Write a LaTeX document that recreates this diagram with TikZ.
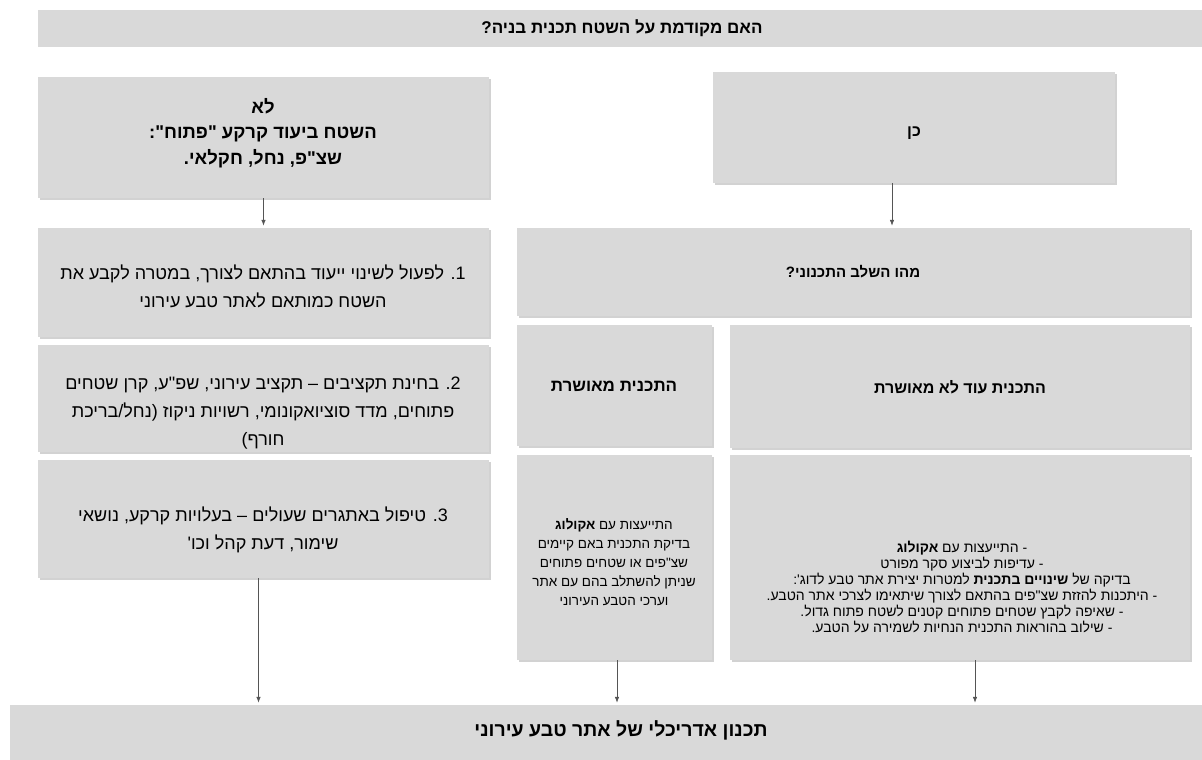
\documentclass[tikz,border=0pt]{standalone}
\usepackage{fontspec}
\newfontfamily\heb[Script=Hebrew]{Liberation Sans}
\TeXXeTstate=1
\usetikzlibrary{shadows,arrows.meta}
\newcommand{\rtl}[1]{\beginR#1\endR}
\definecolor{boxgray}{HTML}{D9D9D9}
\definecolor{arrgray}{HTML}{555555}
\begin{document}
\begin{tikzpicture}[x=1pt,y=-1pt,
  box/.style={fill=boxgray, draw=none, inner sep=0pt,
    drop shadow={shadow xshift=2pt, shadow yshift=-2pt, fill=black!35}},
  flat/.style={fill=boxgray, draw=none, inner sep=0pt},
  txt/.style={align=center, inner sep=0pt, text=black},
  bigt/.style={txt, font=\heb\fontsize{18}{28}\selectfont},
  headt/.style={txt, font=\heb\bfseries\fontsize{16}{25}\selectfont},
  smallt/.style={txt, font=\heb\fontsize{13.5}{19}\selectfont},
  tinyt/.style={txt, font=\heb\fontsize{14}{16}\selectfont},
  arr/.style={draw=arrgray, line width=0.7pt, -{Latex[length=6pt,width=4.5pt]}, shorten >=2pt}]
\useasboundingbox (0,0) rectangle (1202,760);
\fill[white] (0,0) rectangle (1202,760);

% boxes
\node[flat, minimum width=1164pt, minimum height=37pt] (top) at (620,28.5) {};
\node[box, minimum width=451pt, minimum height=121pt] (la) at (263.5,137.5) {};
\node[box, minimum width=402pt, minimum height=111pt] (ken) at (914,127.5) {};
\node[box, minimum width=451pt, minimum height=109pt] (b1) at (263.5,282.5) {};
\node[box, minimum width=451pt, minimum height=107pt] (b2) at (263.5,398.5) {};
\node[box, minimum width=451pt, minimum height=118pt] (b3) at (263.5,519) {};
\node[box, minimum width=673pt, minimum height=88pt] (stage) at (853.5,272) {};
\node[box, minimum width=195pt, minimum height=121pt] (appr) at (614.5,385.5) {};
\node[box, minimum width=460pt, minimum height=123pt] (notappr) at (960,386.5) {};
\node[box, minimum width=195pt, minimum height=205pt] (mb) at (614.5,557.5) {};
\node[box, minimum width=460pt, minimum height=205pt] (rb) at (960,557.5) {};
\node[flat, minimum width=1192pt, minimum height=55pt] (bottom) at (606,732.5) {};

% texts
\node[headt, font=\heb\bfseries\fontsize{17}{20}\selectfont] (topt) at (622,28) {\rtl{האם מקודמת על השטח תכנית בניה?}};
\node[headt, font=\heb\bfseries\fontsize{18.5}{25.5}\selectfont] (lat) at (263,133) {\rtl{לא}\\\rtl{השטח ביעוד קרקע "פתוח":}\\\rtl{שצ"פ, נחל, חקלאי.}};
\node[headt] (kent) at (914,133) {\rtl{כן}};
\node[bigt] (b1t) at (263,286) {\rtl{1\kern0pt. לפעול לשינוי ייעוד בהתאם לצורך, במטרה לקבע את}\\\rtl{השטח כמותאם לאתר טבע עירוני}};
\node[bigt] (b2t) at (263,413) {\rtl{2\kern0pt. בחינת תקציבים – תקציב עירוני, שפ"ע, קרן שטחים}\\\rtl{פתוחים, מדד סוציואקונומי, רשויות ניקוז (נחל/בריכת}\\\rtl{חורף)}};
\node[bigt] (b3t) at (263,530) {\rtl{3\kern0pt. טיפול באתגרים שעולים – בעלויות קרקע, נושאי}\\\rtl{שימור, דעת קהל וכו'}};
\node[headt, font=\heb\bfseries\fontsize{15}{20}\selectfont] (staget) at (853,272) {\rtl{מהו השלב התכנוני?}};
\node[headt, font=\heb\bfseries\fontsize{17}{25}\selectfont] (apprt) at (614,386) {\rtl{התכנית מאושרת}};
\node[headt] (notapprt) at (960,387) {\rtl{התכנית עוד לא מאושרת}};
\node[smallt] (mbt) at (614,562) {\rtl{התייעצות עם {\bfseries אקולוג}}\\\rtl{בדיקת התכנית באם קיימים}\\\rtl{שצ"פים או שטחים פתוחים}\\\rtl{שניתן להשתלב בהם עם אתר}\\\rtl{וערכי הטבע העירוני}};
\node[tinyt] (rbt) at (962,587) {\rtl{- התייעצות עם {\bfseries אקולוג}}\\\rtl{- עדיפות לביצוע סקר מפורט}\\\rtl{בדיקה של {\bfseries שינויים בתכנית} למטרות יצירת אתר טבע לדוג':}\\\rtl{- היתכנות להזזת שצ"פים בהתאם לצורך שיתאימו לצרכי אתר הטבע.}\\\rtl{- שאיפה לקבץ שטחים פתוחים קטנים לשטח פתוח גדול.}\\\rtl{- שילוב בהוראות התכנית הנחיות לשמירה על הטבע.}};
\node[headt, font=\heb\bfseries\fontsize{19.5}{22}\selectfont] (bottomt) at (621,730) {\rtl{תכנון אדריכלי של אתר טבע עירוני}};

% connectors
\draw[arr] (la.south) -- (b1.north);
\draw[arr] ([xshift=-22pt]ken.south) -- ([xshift=-22pt]ken.south |- stage.north);
\draw[arr] ([xshift=-5pt]b3.south) -- ([xshift=-5pt]b3.south |- bottom.north);
\draw[arr] ([xshift=2.5pt]mb.south) -- ([xshift=2.5pt]mb.south |- bottom.north);
\draw[arr] ([xshift=15pt]rb.south) -- ([xshift=15pt]rb.south |- bottom.north);
\end{tikzpicture}
\end{document}
